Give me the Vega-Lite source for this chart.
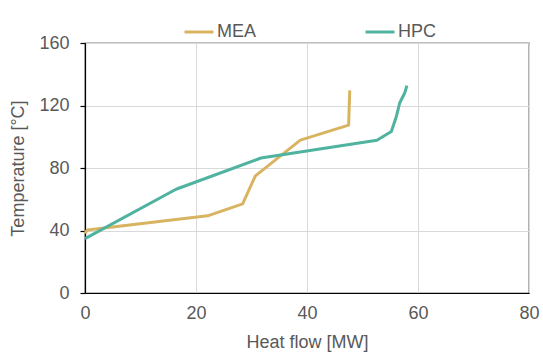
{
  "$schema": "https://vega.github.io/schema/vega-lite/v6.json",
  "width": 444,
  "height": 250,
  "autosize": {"type": "none"},
  "padding": {"left": 85, "top": 43, "right": 14, "bottom": 65},
  "background": "white",
  "config": {
    "view": {"stroke": "#000000", "strokeWidth": 1.2},
    "font": "Liberation Sans"
  },
  "data": {
    "values": [
      {"series": "MEA", "i": 0, "q": 0.0, "t": 38.2},
      {"series": "MEA", "i": 1, "q": 0.4, "t": 40.3},
      {"series": "MEA", "i": 2, "q": 22.1, "t": 49.4},
      {"series": "MEA", "i": 3, "q": 28.4, "t": 57.0},
      {"series": "MEA", "i": 4, "q": 30.7, "t": 75.0},
      {"series": "MEA", "i": 5, "q": 38.8, "t": 97.8},
      {"series": "MEA", "i": 6, "q": 47.5, "t": 107.4},
      {"series": "MEA", "i": 7, "q": 47.7, "t": 129.7},
      {"series": "HPC", "i": 0, "q": 0.0, "t": 34.8},
      {"series": "HPC", "i": 1, "q": 16.4, "t": 66.4},
      {"series": "HPC", "i": 2, "q": 31.7, "t": 86.4},
      {"series": "HPC", "i": 3, "q": 52.6, "t": 97.7},
      {"series": "HPC", "i": 4, "q": 55.2, "t": 103.4},
      {"series": "HPC", "i": 5, "q": 56.1, "t": 113.0},
      {"series": "HPC", "i": 6, "q": 56.7, "t": 121.6},
      {"series": "HPC", "i": 7, "q": 57.6, "t": 128.0},
      {"series": "HPC", "i": 8, "q": 58.0, "t": 132.7}
    ]
  },
  "mark": {"type": "line", "strokeWidth": 3, "strokeJoin": "round"},
  "encoding": {
    "x": {
      "field": "q", "type": "quantitative",
      "scale": {"domain": [0, 80], "nice": false},
      "axis": {
        "title": "Heat flow [MW]", "values": [0, 20, 40, 60, 80],
        "domainColor": "#000000", "domainWidth": 1.2, "ticks": false, "labelFlush": false,
        "labelPadding": 11, "labelFontSize": 18, "labelColor": "#595959",
        "titleFontSize": 18, "titleColor": "#595959", "titleFontWeight": "normal", "titlePadding": 11,
        "gridColor": "#d9d9d9", "gridWidth": 1
      }
    },
    "y": {
      "field": "t", "type": "quantitative",
      "scale": {"domain": [0, 160], "nice": false},
      "axis": {
        "title": "Temperature [°C]", "values": [0, 40, 80, 120, 160],
        "domainColor": "#000000", "domainWidth": 1.2, "tickColor": "#000000", "tickSize": 5, "tickWidth": 1.2, "labelFlush": false,
        "labelPadding": 11, "labelFontSize": 18, "labelColor": "#595959",
        "titleFontSize": 18, "titleColor": "#595959", "titleFontWeight": "normal", "titlePadding": 11,
        "gridColor": "#d9d9d9", "gridWidth": 1
      }
    },
    "color": {
      "field": "series", "type": "nominal",
      "scale": {"domain": ["MEA", "HPC"], "range": ["#D8B461", "#4FB3A0"]},
      "legend": {
        "title": null, "orient": "none", "direction": "horizontal",
        "legendX": 98, "legendY": -27,
        "symbolType": "stroke", "symbolSize": 841, "symbolStrokeWidth": 3,
        "labelFontSize": 18, "labelColor": "#595959", "labelOffset": 2,
        "columnPadding": 102
      }
    },
    "order": {"field": "i", "type": "quantitative"}
  }
}
